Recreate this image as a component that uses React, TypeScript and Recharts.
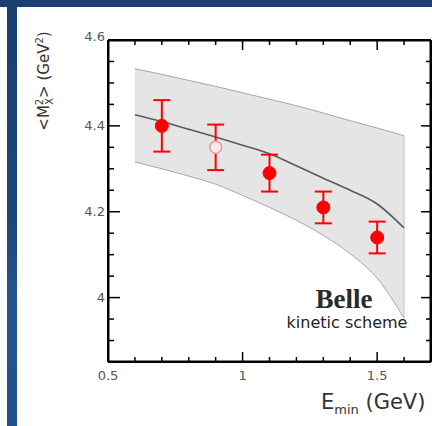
import React from 'react';
import { ComposedChart, XAxis, YAxis, Area, Line, Scatter } from 'recharts';

// Measured points (Belle, kinetic scheme)
const emin = [0.7, 0.9, 1.1, 1.3, 1.5];
const mx2 = [4.40, 4.35, 4.29, 4.21, 4.14];
const mx2Err = [0.06, 0.053, 0.043, 0.037, 0.037];
const openPoint = [false, true, false, false, false];

// Theory prediction band
const theoryX = [0.6, 0.7, 0.8, 0.9, 1.0, 1.1, 1.2, 1.3, 1.4, 1.5, 1.6];
const theoryCentral = [4.426, 4.41, 4.392, 4.374, 4.355, 4.335, 4.307, 4.278, 4.25, 4.218, 4.162];
const theoryUpper = [4.533, 4.52, 4.506, 4.492, 4.477, 4.462, 4.447, 4.43, 4.412, 4.395, 4.377];
const theoryLower = [4.316, 4.300, 4.283, 4.264, 4.238, 4.210, 4.180, 4.145, 4.102, 4.045, 3.952];

// Axis ranges and ticks
const xDomain = [0.5, 1.7];
const yDomain = [3.85, 4.6];
const xTicks = [0.5, 0.6, 0.7, 0.8, 0.9, 1.0, 1.1, 1.2, 1.3, 1.4, 1.5, 1.6, 1.7];
const xMajor = [0.5, 1.0, 1.5];
const xLabels = ['0.5', '1', '1.5'];
const yTicks = [3.9, 3.95, 4.0, 4.05, 4.1, 4.15, 4.2, 4.25, 4.3, 4.35, 4.4, 4.45, 4.5, 4.55, 4.6];
const yMajor = [4.0, 4.2, 4.4, 4.6];
const yLabels = ['4', '4.2', '4.4', '4.6'];

const majorIndex = (v: number, list: number[]) => list.findIndex((m) => Math.abs(m - v) < 1e-6);

const theoryData = theoryX.map((x, i) => ({
  x,
  band: [theoryLower[i], theoryUpper[i]],
  central: theoryCentral[i],
}));
const last = theoryX.length - 1;
const bandEdgeData = [
  { x: theoryX[last], edge: theoryLower[last] },
  { x: theoryX[last], edge: theoryUpper[last] },
];
const pointData = emin.map((x, i) => ({ x, y: mx2[i], open: openPoint[i] }));
const errorSegments = emin.map((x, i) => [
  { x, e: mx2[i] - mx2Err[i] },
  { x, e: mx2[i] + mx2Err[i] },
]);
const capData = emin.flatMap((x, i) => [
  { x, y: mx2[i] - mx2Err[i] },
  { x, y: mx2[i] + mx2Err[i] },
]);

// frame of the plot box and the inward tick marks, placed through the axis scales
const frameData = [
  { x: xDomain[0], f: yDomain[0] },
  { x: xDomain[1], f: yDomain[0] },
  { x: xDomain[1], f: yDomain[1] },
  { x: xDomain[0], f: yDomain[1] },
  { x: xDomain[0], f: yDomain[0] },
];
const tickMarkData = [
  ...xTicks.map((x) => ({ x, y: yDomain[0], side: 'bottom', major: majorIndex(x, xMajor) >= 0 })),
  ...xTicks.map((x) => ({ x, y: yDomain[1], side: 'top', major: majorIndex(x, xMajor) >= 0 })),
  ...yTicks.map((y) => ({ x: xDomain[0], y, side: 'left', major: majorIndex(y, yMajor) >= 0 })),
  ...yTicks.map((y) => ({ x: xDomain[1], y, side: 'right', major: majorIndex(y, yMajor) >= 0 })),
];

const TICK_FONT = 'DejaVu Sans, sans-serif';

const TickMark = (props: any) => {
  const { cx, cy, payload } = props;
  if (cx == null || cy == null || !payload) return null;
  const side = payload.side;
  let len = payload.major ? 10 : 5;
  if (side === 'left') len = payload.major ? 12 : 6;
  let d = '';
  if (side === 'bottom') d = `M${cx},${cy}L${cx},${cy - len}`;
  else if (side === 'top') d = `M${cx},${cy}L${cx},${cy + len}`;
  else if (side === 'left') d = `M${cx},${cy}L${cx + len},${cy}`;
  else d = `M${cx},${cy}L${cx - len},${cy}`;
  return <path d={d} stroke="#000000" strokeWidth={1.5} fill="none" />;
};

const CapMark = (props: any) => {
  const { cx, cy } = props;
  if (cx == null || cy == null) return null;
  return <path d={`M${cx - 8.5},${cy}L${cx + 8.5},${cy}`} stroke="#ff0000" strokeWidth={2} fill="none" />;
};

const bottomTick = (props: any) => {
  const { x, y, payload } = props;
  const idx = majorIndex(payload.value, xMajor);
  return (
    <text x={x} y={y + 18} textAnchor="middle" fontSize={13} fill="#555">
      {idx >= 0 ? xLabels[idx] : ''}
    </text>
  );
};

const leftTick = (props: any) => {
  const { x, y, payload } = props;
  const idx = majorIndex(payload.value, yMajor);
  return (
    <text x={x - 3} y={y + (idx === 3 ? 1 : 4)} textAnchor="end" fontSize={13} fill="#555">
      {idx >= 0 ? yLabels[idx] : ''}
    </text>
  );
};

const PointShape = (props: any) => {
  const { cx, cy, payload } = props;
  if (cx == null || cy == null) return null;
  if (payload && payload.open) {
    return <circle cx={cx} cy={cy} r={6} fill="#f5eded" stroke="#f29a9a" strokeWidth={1.5} />;
  }
  return <circle cx={cx} cy={cy} r={6.5} fill="#ff0000" stroke="#ff0000" strokeWidth={1} />;
};

export default function App() {
  return (
    <div style={{ position: 'absolute', left: 0, top: 0, width: 432, height: 426, overflow: 'hidden', fontFamily: TICK_FONT }}>
      {/* slide frame */}
      <div style={{ position: 'absolute', left: 0, top: 0, width: 432, height: 7, background: '#1c3f72' }} />
      <div
        style={{
          position: 'absolute',
          left: 7,
          top: 0,
          width: 10,
          height: 426,
          background: 'linear-gradient(180deg, #1c3f72 0%, #1e4478 50%, #27538c 70%, #22508a 100%)',
        }}
      />
      {/* axis titles */}
      <svg width={432} height={426} style={{ position: 'absolute', left: 0, top: 0 }}>
        <text transform="translate(49,81) rotate(-90)" textAnchor="middle" fontSize={15} fill="#333">
          <tspan>{'<M'}</tspan>
          <tspan fontSize={10} dy={-6}>2</tspan>
          <tspan fontSize={10} dx={-6} dy={10}>X</tspan>
          <tspan dy={-4}>{'> (GeV'}</tspan>
          <tspan fontSize={10} dy={-6}>2</tspan>
          <tspan dy={6}>)</tspan>
        </text>
        <text x={321} y={409} fontSize={21} fill="#333">
          <tspan>E</tspan>
          <tspan fontSize={13} dy={5}>min</tspan>
          <tspan dy={-5}> (GeV)</tspan>
        </text>
      </svg>
      <div style={{ position: 'absolute', left: 0, top: 0 }}>
        <ComposedChart width={432} height={426} data={theoryData} margin={{ top: 39, right: 0, bottom: 0, left: 0 }}>
          <XAxis xAxisId="bottom" dataKey="x" type="number" domain={xDomain} ticks={xTicks} interval={0} allowDataOverflow height={64} tickSize={0} tickMargin={0} tickLine={false} axisLine={{ stroke: '#000000', strokeWidth: 2 }} tick={bottomTick} />
          <XAxis xAxisId="top" orientation="top" dataKey="x" type="number" domain={xDomain} ticks={xTicks} interval={0} allowDataOverflow height={1} tickSize={0} tickMargin={0} tickLine={false} axisLine={{ stroke: '#000000', strokeWidth: 2 }} tick={false} />
          <YAxis yAxisId="left" dataKey="y" type="number" domain={yDomain} ticks={yTicks} interval={0} allowDataOverflow width={108} tickSize={0} tickMargin={0} tickLine={false} axisLine={{ stroke: '#000000', strokeWidth: 2 }} tick={leftTick} />
          <YAxis yAxisId="right" orientation="right" type="number" domain={yDomain} ticks={yTicks} interval={0} allowDataOverflow width={1} tickSize={0} tickMargin={0} tickLine={false} axisLine={{ stroke: '#000000', strokeWidth: 2 }} tick={false} />
          <Area xAxisId="bottom" yAxisId="left" dataKey="band" type="monotone" fill="#e5e5e5" fillOpacity={1} stroke="#a8a8a8" strokeWidth={1} isAnimationActive={false} />
          <Line xAxisId="bottom" yAxisId="left" data={bandEdgeData} dataKey="edge" stroke="#c4c4c4" strokeWidth={1} dot={false} isAnimationActive={false} />
          <Line xAxisId="bottom" yAxisId="left" dataKey="central" type="monotone" stroke="#5a5a5a" strokeWidth={1.6} dot={false} isAnimationActive={false} />
          <Line xAxisId="bottom" yAxisId="left" data={frameData} dataKey="f" type="linear" stroke="#000000" strokeWidth={3} dot={false} isAnimationActive={false} />
          {errorSegments.map((seg, i) => (
            <Line key={`err-${i}`} xAxisId="bottom" yAxisId="left" data={seg} dataKey="e" type="linear" stroke="#ff0000" strokeWidth={2} dot={false} isAnimationActive={false} />
          ))}
          <Scatter xAxisId="bottom" yAxisId="left" data={tickMarkData} dataKey="y" shape={<TickMark />} isAnimationActive={false} />
          <Scatter xAxisId="bottom" yAxisId="left" data={capData} dataKey="y" shape={<CapMark />} isAnimationActive={false} />
          <Scatter xAxisId="bottom" yAxisId="left" data={pointData} dataKey="y" shape={<PointShape />} isAnimationActive={false} />
        </ComposedChart>
      </div>
      <svg width={432} height={426} style={{ position: 'absolute', left: 0, top: 0, pointerEvents: 'none' }}>
        <text x={344} y={308} textAnchor="middle" fontSize={27} fontWeight="bold" fill="#2a2a2a" fontFamily="Liberation Serif, serif">
          Belle
        </text>
        <text x={347} y={328} textAnchor="middle" fontSize={16} fill="#222">
          kinetic scheme
        </text>
      </svg>
    </div>
  );
}
